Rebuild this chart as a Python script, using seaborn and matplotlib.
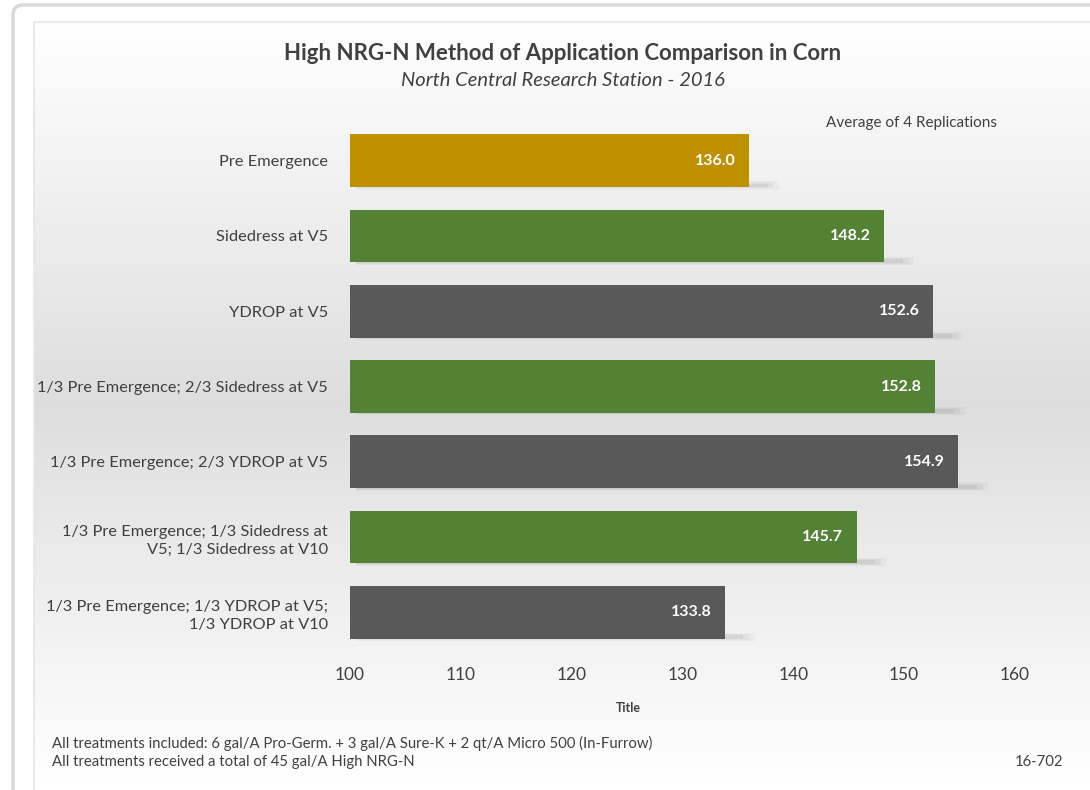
import numpy as np
import pandas as pd
import matplotlib
matplotlib.use("Agg")
import matplotlib.pyplot as plt
from matplotlib.patches import FancyBboxPatch, Rectangle
import seaborn as sns

treatments = [
    "Pre Emergence",
    "Sidedress at V5",
    "YDROP at V5",
    "1/3 Pre Emergence; 2/3 Sidedress at V5",
    "1/3 Pre Emergence; 2/3 YDROP at V5",
    "1/3 Pre Emergence; 1/3 Sidedress at\nV5; 1/3 Sidedress at V10",
    "1/3 Pre Emergence; 1/3 YDROP at V5;\n1/3 YDROP at V10",
]
yields = [136.0, 148.2, 152.6, 152.8, 154.9, 145.7, 133.8]
groups = ["Pre", "Sidedress", "YDROP", "Sidedress", "YDROP", "Sidedress", "YDROP"]
palette = {"Pre": "#BF9000", "Sidedress": "#548235", "YDROP": "#595959"}
x_ticks = [100, 110, 120, 130, 140, 150, 160]

sns.set_theme(style="white")
plt.rcParams["font.family"] = ["Lato", "DejaVu Sans"]

df = pd.DataFrame({"Treatment": treatments, "Yield": yields, "Group": groups})

fig = plt.figure(figsize=(10.9, 7.9), dpi=100)

# background gradient panel
bg = fig.add_axes([0, 0, 1, 1], zorder=-10)
bg.set_xlim(0, 1090)
bg.set_ylim(790, 0)
bg.axis("off")
grad = np.concatenate([np.linspace(1.0, 0.87, 60), np.linspace(0.87, 1.0, 60)])
img = np.tile(grad[:, None, None], (1, 10, 3))
bg.imshow(img, extent=[34, 1090, 785, 22], aspect="auto", zorder=0, interpolation="bilinear")
bg.add_patch(FancyBboxPatch((13, 5), 1090, 800, boxstyle="round,pad=0,rounding_size=10",
                            fill=False, edgecolor="#d9d9d9", linewidth=2.5, zorder=1))
bg.add_patch(Rectangle((34, 22), 1100, 800, fill=False, edgecolor="#e6e6e6", linewidth=1.2, zorder=1))

ax = fig.add_axes([350 / 1090, 1 - 650 / 790, (1015 - 350) / 1090, (650 - 123) / 790])
ax.patch.set_alpha(0)

# soft shadows
for i, v in enumerate(yields):
    for k, a in enumerate([0.06, 0.08, 0.1]):
        ax.barh(i + 0.33, v - 100 + 2.2 - k * 0.5, left=100 + 0.5, height=0.11 - k * 0.03,
                color="#707070", alpha=a, zorder=1, linewidth=0)

sns.barplot(data=df, y="Treatment", x="Yield", hue="Group", palette=palette,
            orient="h", width=0.7, dodge=False, legend=False, ax=ax, zorder=3,
            saturation=1, linewidth=0)

ax.set_xlim(100, 160)
ax.set_ylim(6.5, -0.5)
ax.set_xticks(x_ticks)
ax.set_xticklabels([str(t) for t in x_ticks], fontsize=12.5, color="#404040")
ax.set_yticks(range(len(treatments)))
ax.set_yticklabels(treatments, fontsize=11.8, color="#404040", linespacing=1.35)
ax.tick_params(axis="y", length=0, pad=16)
ax.tick_params(axis="x", length=0, pad=12)
for s in ax.spines.values():
    s.set_visible(False)
ax.set_ylabel("")
ax.set_xlabel("Title", fontsize=9, fontweight="bold", color="#404040", labelpad=12)
ax.xaxis.set_label_coords((628 - 350) / 665, -(702 - 650) / 527)

for i, v in enumerate(yields):
    ax.text(v - 1.2, i, f"{v:.1f}", ha="right", va="center", color="white",
            fontsize=11.5, fontweight="bold", zorder=5)

fig.text(563 / 1090, 1 - 53 / 790, "High NRG-N Method of Application Comparison in Corn",
         ha="center", va="center", fontsize=16, fontweight="bold", color="#404040")
fig.text(563 / 1090, 1 - 80 / 790, "North Central Research Station - 2016",
         ha="center", va="center", fontsize=14.5, style="italic", color="#404040")
fig.text(997 / 1090, 1 - 123 / 790, "Average of 4 Replications",
         ha="right", va="center", fontsize=11, color="#404040")
fig.text(52 / 1090, 1 - 743 / 790,
         "All treatments included: 6 gal/A Pro-Germ. + 3 gal/A Sure-K + 2 qt/A Micro 500 (In-Furrow)",
         ha="left", va="center", fontsize=10.7, color="#404040")
fig.text(52 / 1090, 1 - 762 / 790, "All treatments received a total of 45 gal/A High NRG-N",
         ha="left", va="center", fontsize=10.7, color="#404040")
fig.text(1063 / 1090, 1 - 762 / 790, "16-702",
         ha="right", va="center", fontsize=10.7, color="#404040")

fig.savefig("out.png", dpi=100)
